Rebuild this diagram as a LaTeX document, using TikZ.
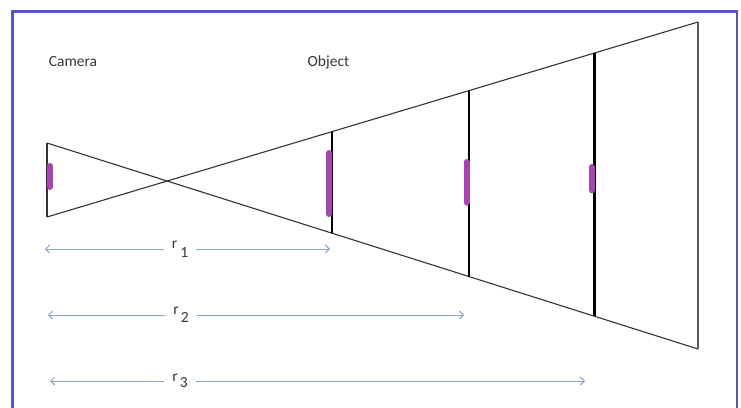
\documentclass[tikz,border=0pt]{standalone}
\usepackage{fontspec}
\setmainfont{Carlito}
\usetikzlibrary{arrows.meta,calc}
\definecolor{frameblue}{RGB}{85,85,190}
\definecolor{sensor}{RGB}{165,70,175}
\definecolor{dimblue}{RGB}{135,165,200}
\definecolor{txt}{RGB}{55,55,55}
\begin{document}
\begin{tikzpicture}[x=1pt,y=-1pt,
  ray/.style={line width=1.1pt, draw=black!80},
  objline/.style={line width=2.6pt, draw=black},
  sensorbar/.style={line width=6pt, draw=sensor, line cap=round},
  dimline/.style={line width=1pt, draw=dimblue, -{Straight Barb[length=4pt,width=8pt]}},
  lbl/.style={font=\fontsize{15.5}{18}\selectfont, text=txt, inner sep=0pt},
  rlbl/.style={font=\fontsize{15.5}{18}\selectfont, text=txt, inner xsep=8pt, inner ysep=0pt}
]
\useasboundingbox (0,0) rectangle (741,407);
\fill[white] (0,0) rectangle (741,407);
\draw[frameblue, line width=2.5pt] (12.5,412) -- (12.5,11.5) -- (737,11.5) -- (737,412);

% texts
\node[lbl] (camera) at (73,62) {Camera};
\node[lbl] (object) at (328.5,62) {Object};

% geometry
\coordinate (camtop) at (47,143);
\coordinate (cambot) at (47,217);
\coordinate (fartop) at (698,22);
\coordinate (farbot) at (698,349);

\draw[ray] (camtop) -- (cambot);
\draw[ray] (camtop) -- (farbot);
\draw[ray] (cambot) -- (fartop);
\draw[ray, draw=black!65] (fartop) -- (farbot);

% object planes
\coordinate (o1t) at ($(cambot)!0.4378!(fartop)$);
\coordinate (o1b) at ($(camtop)!0.4378!(farbot)$);
\coordinate (o2t) at ($(cambot)!0.6482!(fartop)$);
\coordinate (o2b) at ($(camtop)!0.6482!(farbot)$);
\coordinate (o3t) at ($(cambot)!0.8410!(fartop)$);
\coordinate (o3b) at ($(camtop)!0.8410!(farbot)$);
\draw[objline] (o1t) -- (o1b);
\draw[objline] (o2t) -- (o2b);
\draw[objline] (o3t) -- (o3b);

% purple bars
\coordinate (s0a) at (49.7,166); \coordinate (s0b) at (49.7,187);
\coordinate (s1a) at (329,153);  \coordinate (s1b) at (329,214);
\coordinate (s2a) at (466.5,162); \coordinate (s2b) at (466.5,202.7);
\coordinate (s3a) at (591.7,167); \coordinate (s3b) at (591.7,190.3);
\draw[sensorbar] (s0a) -- (s0b);
\draw[sensorbar] (s1a) -- (s1b);
\draw[sensorbar] (s2a) -- (s2b);
\draw[sensorbar] (s3a) -- (s3b);

% distance arrows
\node[rlbl] (r1) at (180,249) {r\hspace{3pt}\raisebox{-9pt}{1}};
\node[rlbl] (r2) at (181,315) {r\hspace{2pt}\raisebox{-8pt}{2}};
\node[rlbl] (r3) at (180,381) {r\hspace{2pt}\raisebox{-6pt}{3}};
\coordinate (r1l) at (45,249);  \coordinate (r1r) at (330,249);
\coordinate (r2l) at (48,315);  \coordinate (r2r) at (464,315);
\coordinate (r3l) at (50,381);  \coordinate (r3r) at (585,381);
\draw[dimline] (r1) -- (r1l);
\draw[dimline] (r1) -- (r1r);
\draw[dimline] (r2) -- (r2l);
\draw[dimline] (r2) -- (r2r);
\draw[dimline] (r3) -- (r3l);
\draw[dimline] (r3) -- (r3r);
\end{tikzpicture}
\end{document}
